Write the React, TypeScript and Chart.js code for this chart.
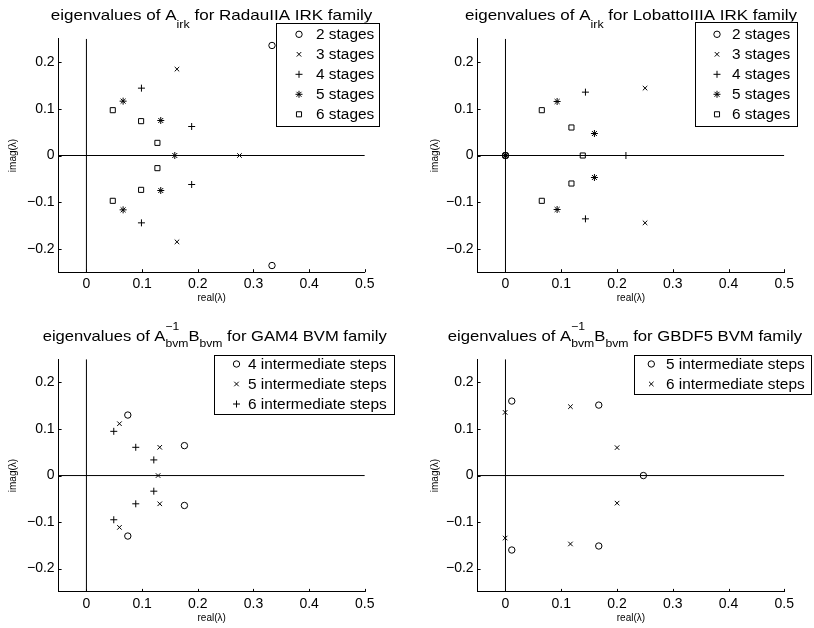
import React, { useEffect, useRef } from 'react';
import { Chart, registerables } from 'chart.js';
import { drawPoint } from 'chart.js/helpers';

Chart.register(...registerables);

const FONT = '"Liberation Sans", Arial, Helvetica, sans-serif';

// axis ranges and ticks
const X_RANGE = [-0.05, 0.5];
const Y_RANGE = [-0.25, 0.25];
const X_TICKS = [0, 0.1, 0.2, 0.3, 0.4, 0.5];
const Y_TICKS = [-0.2, -0.1, 0, 0.1, 0.2];

// eigenvalues as [real, imag] pairs
// RadauIIA IRK family
const radau2 = [[0.3333, 0.2357], [0.3333, -0.2357]];
const radau3 = [[0.1626, 0.185], [0.1626, -0.185], [0.2749, 0]];
const radau4 = [[0.0988, 0.1443], [0.0988, -0.1443], [0.189, 0.0621], [0.189, -0.0621]];
const radau5 = [[0.0659, 0.1164], [0.0659, -0.1164], [0.1335, 0.075], [0.1335, -0.075], [0.1587, 0]];
const radau6 = [[0.0473, 0.0971], [0.0473, -0.0971], [0.0982, 0.0736], [0.0982, -0.0736], [0.1275, 0.0271], [0.1275, -0.0271]];

// LobattoIIIA IRK family
const lobatto2 = [[0, 0]];
const lobatto3 = [[0, 0], [0.2503, 0.1443], [0.2503, -0.1443]];
const lobatto4 = [[0, 0], [0.1434, 0.1357], [0.1434, -0.1357], [0.216, 0]];
const lobatto5 = [[0, 0], [0.0926, 0.1157], [0.0926, -0.1157], [0.1595, 0.0471], [0.1595, -0.0471]];
const lobatto6 = [[0, 0], [0.0651, 0.0971], [0.0651, -0.0971], [0.1183, 0.06], [0.1183, -0.06], [0.1386, 0]];

// GAM4 BVM family
const gam4 = [[0.0743, 0.13], [0.0743, -0.13], [0.176, 0.0643], [0.176, -0.0643]];
const gam5 = [[0.0593, 0.1114], [0.0593, -0.1114], [0.1317, 0.0607], [0.1317, -0.0607], [0.1287, 0]];
const gam6 = [[0.0491, 0.095], [0.0491, -0.095], [0.0886, 0.0607], [0.0886, -0.0607], [0.121, 0.0336], [0.121, -0.0336]];

// GBDF5 BVM family
const gbdf5 = [[0.0113, 0.16], [0.0113, -0.16], [0.1673, 0.1514], [0.1673, -0.1514], [0.2473, 0]];
const gbdf6 = [[-0.0006, 0.1357], [-0.0006, -0.1343], [0.1165, 0.148], [0.1165, -0.147], [0.2001, 0.06], [0.2001, -0.0593]];

const STAGE_LABELS = ['2 stages', '3 stages', '4 stages', '5 stages', '6 stages'];
const GAM_LABELS = ['4 intermediate steps', '5 intermediate steps', '6 intermediate steps'];
const GBDF_LABELS = ['5 intermediate steps', '6 intermediate steps'];

const MARKERS: Record<string, { pointStyle: string; radius: number }> = {
  o: { pointStyle: 'circle', radius: 3.2 },
  x: { pointStyle: 'crossRot', radius: 3.2 },
  '+': { pointStyle: 'cross', radius: 3.5 },
  '*': { pointStyle: 'star', radius: 3.5 },
  s: { pointStyle: 'rect', radius: 3.6 },
};

type Part = { t?: string; sub?: string; sup?: string };

const PANELS = [
  {
    title: [{ t: 'eigenvalues of A' }, { sub: 'irk' }, { t: ' for RadauIIA IRK family' }] as Part[],
    series: [radau2, radau3, radau4, radau5, radau6],
    labels: STAGE_LABELS,
    markers: ['o', 'x', '+', '*', 's'],
    pos: { left: 0, top: 0 },
    L: 58.6, R: 42.2, T: 38.8, H: 41.8, xTitlePad: 10, yTitlePad: 7.3,
    titleLeft: 50.7, titleW: 321.6, titleBase: 19.5, subShift: 8, supShift: 11,
    legend: { x: 276, y: 22.5, w: 103, h: 103, mx: 299, tx: 316, r0: 34.3, rh: 20 },
  },
  {
    title: [{ t: 'eigenvalues of A' }, { sub: 'irk' }, { t: ' for LobattoIIIA IRK family' }] as Part[],
    series: [lobatto2, lobatto3, lobatto4, lobatto5, lobatto6],
    labels: STAGE_LABELS,
    markers: ['o', 'x', '+', '*', 's'],
    pos: { left: 407, top: 0 },
    L: 70.6, R: 29.7, T: 38.8, H: 41.8, xTitlePad: 10, yTitlePad: 22.3,
    titleLeft: 58, titleW: 332, titleBase: 19.5, subShift: 8, supShift: 11,
    legend: { x: 288.3, y: 21.5, w: 102.4, h: 104, mx: 310, tx: 325, r0: 34.3, rh: 20 },
  },
  {
    title: [{ t: 'eigenvalues of A' }, { sup: '\u22121', sub: 'bvm' }, { t: 'B' }, { sub: 'bvm' }, { t: ' for GAM4 BVM family' }] as Part[],
    series: [gam4, gam5, gam6],
    labels: GAM_LABELS,
    markers: ['o', 'x', '+'],
    pos: { left: 0, top: 314 },
    L: 58.6, R: 42.2, T: 45.2, H: 36.1, xTitlePad: 4, yTitlePad: 7.3,
    titleLeft: 42.7, titleW: 344, titleBase: 27, subShift: 6, supShift: 11,
    legend: { x: 214.3, y: 40.7, w: 179.7, h: 58.6, mx: 236.5, tx: 248, r0: 50, rh: 20 },
  },
  {
    title: [{ t: 'eigenvalues of A' }, { sup: '\u22121', sub: 'bvm' }, { t: 'B' }, { sub: 'bvm' }, { t: ' for GBDF5 BVM family' }] as Part[],
    series: [gbdf5, gbdf6],
    labels: GBDF_LABELS,
    markers: ['o', 'x'],
    pos: { left: 407, top: 314 },
    L: 70.6, R: 29.7, T: 45.2, H: 36.1, xTitlePad: 4, yTitlePad: 22.3,
    titleLeft: 40.7, titleW: 354.3, titleBase: 27, subShift: 6, supShift: 11,
    legend: { x: 226.7, y: 40.7, w: 177.3, h: 38.6, mx: 244.3, tx: 259, r0: 50, rh: 20 },
  },
];

const fmt = (v: number) => {
  if (Math.abs(v) < 1e-9) return '0';
  const s = Math.abs(v).toFixed(1);
  return v < 0 ? '\u2212' + s : s;
};

const TITLE_SIZE = 15;
const SCRIPT_SIZE = 11;
const LEGEND_SIZE = 14;

function partsWidth(ctx: CanvasRenderingContext2D, parts: Part[]) {
  let w = 0;
  for (const p of parts) {
    if (p.t) {
      ctx.font = `${TITLE_SIZE}px ${FONT}`;
      w += ctx.measureText(p.t).width;
    } else {
      ctx.font = `${SCRIPT_SIZE}px ${FONT}`;
      const a = p.sub ? ctx.measureText(p.sub).width : 0;
      const b = p.sup ? ctx.measureText(p.sup).width : 0;
      w += Math.max(a, b);
    }
  }
  return w;
}

function makeDecor(cfg: any) {
  return {
    id: 'decor',
    afterDraw(chart: any) {
      const ctx: CanvasRenderingContext2D = chart.ctx;
      const xs = chart.scales.x;
      const ys = chart.scales.y;
      const area = chart.chartArea;
      ctx.save();
      // inward tick marks
      ctx.strokeStyle = '#000';
      ctx.lineWidth = 1;
      ctx.beginPath();
      for (const v of X_TICKS) {
        const px = Math.round(xs.getPixelForValue(v)) + 0.5;
        ctx.moveTo(px, area.bottom);
        ctx.lineTo(px, area.bottom - 3);
      }
      for (const v of Y_TICKS) {
        const py = Math.round(ys.getPixelForValue(v)) + 0.5;
        ctx.moveTo(area.left, py);
        ctx.lineTo(area.left + 3, py);
      }
      ctx.stroke();

      // title with sub/superscripts
      const nat = partsWidth(ctx, cfg.title);
      const sx = cfg.titleW / nat;
      ctx.save();
      ctx.translate(cfg.titleLeft, cfg.titleBase);
      ctx.scale(sx, 1);
      ctx.fillStyle = '#000';
      ctx.textBaseline = 'alphabetic';
      ctx.textAlign = 'left';
      let cx = 0;
      for (const p of cfg.title as Part[]) {
        if (p.t) {
          ctx.font = `${TITLE_SIZE}px ${FONT}`;
          ctx.fillText(p.t, cx, 0);
          cx += ctx.measureText(p.t).width;
        } else {
          ctx.font = `${SCRIPT_SIZE}px ${FONT}`;
          let w = 0;
          if (p.sub) {
            ctx.fillText(p.sub, cx, cfg.subShift);
            w = Math.max(w, ctx.measureText(p.sub).width);
          }
          if (p.sup) {
            ctx.fillText(p.sup, cx, -cfg.supShift);
            w = Math.max(w, ctx.measureText(p.sup).width);
          }
          cx += w;
        }
      }
      ctx.restore();

      // legend
      const lg = cfg.legend;
      ctx.fillStyle = '#fff';
      ctx.fillRect(lg.x, lg.y, lg.w, lg.h);
      ctx.strokeStyle = '#000';
      ctx.lineWidth = 1;
      ctx.strokeRect(Math.round(lg.x) + 0.5, Math.round(lg.y) + 0.5, Math.round(lg.w), Math.round(lg.h));
      const n = cfg.labels.length;
      for (let i = 0; i < n; i++) {
        const ds = chart.data.datasets[i];
        const y = lg.r0 + i * lg.rh;
        ctx.strokeStyle = '#000';
        ctx.fillStyle = 'rgba(0,0,0,0)';
        ctx.lineWidth = 1;
        drawPoint(ctx, { pointStyle: ds.pointStyle, radius: ds.pointRadius, borderWidth: 1, rotation: 0 } as any, lg.mx, y);
        ctx.save();
        ctx.translate(lg.tx, y);
        ctx.scale(1.1, 1);
        ctx.fillStyle = '#000';
        ctx.font = `${LEGEND_SIZE}px ${FONT}`;
        ctx.textBaseline = 'middle';
        ctx.textAlign = 'left';
        ctx.fillText(ds.label, 0, 1);
        ctx.restore();
      }
      ctx.restore();
    },
  };
}

function Panel({ cfg }: { cfg: any }) {
  const ref = useRef<HTMLCanvasElement>(null);
  useEffect(() => {
    if (!ref.current) return;
    const datasets: any[] = cfg.series.map((s: number[][], i: number) => {
      const m = MARKERS[cfg.markers[i]];
      return {
        type: 'scatter',
        label: cfg.labels[i],
        data: s.map(([re, im]) => ({ x: re, y: im })),
        pointStyle: m.pointStyle,
        pointRadius: m.radius,
        pointBorderWidth: 1,
        borderColor: '#000',
        backgroundColor: 'rgba(0,0,0,0)',
        showLine: false,
      };
    });
    // coordinate axes through the origin
    datasets.push({
      type: 'line',
      label: 'real axis',
      data: [{ x: X_RANGE[0], y: 0 }, { x: X_RANGE[1], y: 0 }],
      borderColor: '#000',
      borderWidth: 1,
      pointRadius: 0,
      showLine: true,
    });
    datasets.push({
      type: 'line',
      label: 'imag axis',
      data: [{ x: 0, y: Y_RANGE[0] }, { x: 0, y: Y_RANGE[1] }],
      borderColor: '#000',
      borderWidth: 1,
      pointRadius: 0,
      showLine: true,
    });
    const chart = new Chart(ref.current, {
      type: 'scatter',
      data: { datasets },
      options: {
        responsive: false,
        animation: false,
        devicePixelRatio: 1,
        events: [],
        layout: { padding: { top: cfg.T, right: cfg.R, left: 0, bottom: 0 } },
        plugins: { legend: { display: false }, title: { display: false }, tooltip: { enabled: false } },
        scales: {
          x: {
            type: 'linear',
            min: X_RANGE[0],
            max: X_RANGE[1],
            afterBuildTicks: (s: any) => { s.ticks = X_TICKS.map((value) => ({ value })); },
            afterFit: (s: any) => { s.height = cfg.H; },
            grid: { display: false, drawTicks: false },
            border: { display: true, color: '#000', width: 1 },
            ticks: { color: '#000', font: { family: FONT, size: 14 }, padding: 4, autoSkip: false, maxRotation: 0, callback: (v: any) => fmt(Number(v)) },
            title: { display: true, text: 'real(\u03bb)', color: '#000', font: { family: FONT, size: 10 }, padding: { top: 0, bottom: cfg.xTitlePad } },
          },
          y: {
            type: 'linear',
            min: Y_RANGE[0],
            max: Y_RANGE[1],
            afterBuildTicks: (s: any) => { s.ticks = Y_TICKS.map((value) => ({ value })); },
            afterFit: (s: any) => { s.width = cfg.L; },
            grid: { display: false, drawTicks: false },
            border: { display: true, color: '#000', width: 1 },
            ticks: { color: '#000', font: { family: FONT, size: 14 }, padding: 4, autoSkip: false, callback: (v: any) => fmt(Number(v)) },
            title: { display: true, text: 'imag(\u03bb)', color: '#000', font: { family: FONT, size: 10 }, padding: { top: cfg.yTitlePad, bottom: 0 } },
          },
        },
      } as any,
      plugins: [makeDecor(cfg)],
    });
    return () => chart.destroy();
  }, [cfg]);
  return (
    <canvas
      ref={ref}
      width={407}
      height={314}
      style={{ position: 'absolute', left: cfg.pos.left, top: cfg.pos.top, width: 407, height: 314, display: 'block' }}
    />
  );
}

export default function App() {
  return (
    <div style={{ position: 'absolute', left: 0, top: 0, width: 814, height: 628, background: '#fff' }}>
      {PANELS.map((p, i) => (
        <Panel key={i} cfg={p} />
      ))}
    </div>
  );
}
